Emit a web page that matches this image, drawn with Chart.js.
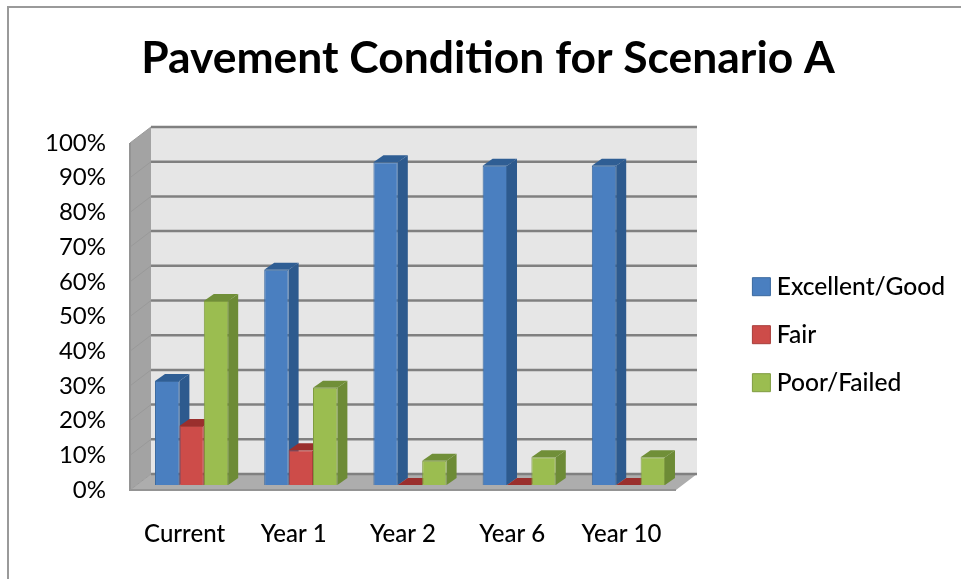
<!DOCTYPE html>
<html>
<head>
<meta charset="utf-8">
<script src="https://cdn.jsdelivr.net/npm/chart.js@4"></script>
<style>
  html, body { margin: 0; padding: 0; background: #fff; }
  #wrap { position: relative; width: 961px; height: 579px; overflow: hidden; }
  #frame { position: absolute; left: 7px; top: 6px; width: 960px; height: 580px; border: solid #9a9a9a; border-width: 2px 0 0 2px; box-sizing: border-box; }
  canvas { position: absolute; left: 0; top: 0; }
</style>
</head>
<body>
<div id="wrap">
  <div id="frame"></div>
  <canvas id="chart" width="961" height="579"></canvas>
</div>
<script>
const categories = ['Current', 'Year 1', 'Year 2', 'Year 6', 'Year 10'];
const excellentGood = [30, 62, 93, 92, 92];
const fair = [17, 10, 0, 0, 0];
const poorFailed = [53, 28, 7, 8, 8];
const yTicks = [0, 10, 20, 30, 40, 50, 60, 70, 80, 90, 100];

const FONT = 'Lato, "Noto Sans", sans-serif';
// Pseudo-3D offsets measured from the front edge of the floor.
const WALL = { dx: 21, dy: -16 };
const BAR_PLANE = { dx: 7, dy: -5 };
const BAR_DEPTH = { dx: 10, dy: -7 };

const shades = {
  blue:  { front: '#4a7fc0', edge: '#3a699f', side: '#2d5a8e', top: '#2f5e94' },
  red:   { front: '#cd4c49', edge: '#a83d3a', side: '#8e2f2c', top: '#9a2f2d' },
  green: { front: '#9bbd50', edge: '#7f9c40', side: '#6d8b36', top: '#708f38' }
};

function poly(ctx, pts, fill) {
  ctx.beginPath();
  pts.forEach((p, i) => (i ? ctx.lineTo(p[0], p[1]) : ctx.moveTo(p[0], p[1])));
  ctx.closePath();
  ctx.fillStyle = fill;
  ctx.fill();
}

const room = {
  id: 'room',
  beforeDatasetsDraw(chart) {
    const { ctx, chartArea: a, scales: { y } } = chart;
    const w = WALL;
    // Back wall, side wall and floor, with gridlines taken from the value scale.
    poly(ctx, [[a.left + w.dx, a.top + w.dy], [a.right + w.dx, a.top + w.dy],
               [a.right + w.dx, a.bottom + w.dy], [a.left + w.dx, a.bottom + w.dy]], '#e6e6e6');
    poly(ctx, [[a.left, a.top], [a.left + w.dx, a.top + w.dy],
               [a.left + w.dx, a.bottom + w.dy], [a.left, a.bottom]], '#a3a3a3');
    poly(ctx, [[a.left, a.bottom], [a.left + w.dx, a.bottom + w.dy],
               [a.right + w.dx, a.bottom + w.dy], [a.right, a.bottom]], '#adadad');
    yTicks.forEach(v => {
      const py = y.getPixelForValue(v);
      ctx.strokeStyle = '#808080';
      ctx.lineWidth = 2.5;
      ctx.beginPath();
      ctx.moveTo(a.left + w.dx, py + w.dy);
      ctx.lineTo(a.right + w.dx, py + w.dy);
      ctx.stroke();
      ctx.strokeStyle = '#999999';
      ctx.lineWidth = 1;
      ctx.beginPath();
      ctx.moveTo(a.left, py);
      ctx.lineTo(a.left + w.dx, py + w.dy);
      ctx.stroke();
    });
    ctx.strokeStyle = '#949494';
    ctx.lineWidth = 2;
    ctx.beginPath();
    ctx.moveTo(a.left, a.top);
    ctx.lineTo(a.left, a.bottom);
    ctx.lineTo(a.right, a.bottom);
    ctx.stroke();

    // Side and top faces go down first, left to right, so that each bar's
    // front face (drawn by the library) covers its left neighbour's side.
    const d = BAR_DEPTH;
    ctx.save();
    ctx.translate(BAR_PLANE.dx, BAR_PLANE.dy);
    chart.data.datasets.forEach((ds, i) => {
      const c = ds.shade;
      chart.getDatasetMeta(i).data.forEach(bar => {
        const { x, y: top, base, width } = bar.getProps(['x', 'y', 'base', 'width'], true);
        const l = x - width / 2, r = x + width / 2;
        poly(ctx, [[r, top], [r + d.dx, top + d.dy], [r + d.dx, base + d.dy], [r, base]], c.side);
        poly(ctx, [[l, top], [l + d.dx, top + d.dy], [r + d.dx, top + d.dy], [r, top]], c.top);
      });
    });
    ctx.restore();
  },
  // Front faces sit in the bars' own depth plane.
  beforeDatasetDraw(chart) {
    chart.ctx.save();
    chart.ctx.translate(BAR_PLANE.dx, BAR_PLANE.dy);
  },
  afterDatasetDraw(chart) {
    chart.ctx.restore();
  },
  // Title and legend are placed independently of the plot rectangle.
  afterLayout(chart) {
    const t = chart.titleBlock;
    t.left = 15; t.right = 961;
    const l = chart.legend;
    l.left = 735; l.right = 961; l.top = 251; l.bottom = 579;
  }
};

new Chart(document.getElementById('chart'), {
  type: 'bar',
  data: {
    labels: categories,
    datasets: [
      { label: 'Excellent/Good', data: excellentGood, shade: shades.blue,
        backgroundColor: shades.blue.front, borderColor: shades.blue.edge },
      { label: 'Fair', data: fair, shade: shades.red,
        backgroundColor: shades.red.front, borderColor: shades.red.edge },
      { label: 'Poor/Failed', data: poorFailed, shade: shades.green,
        backgroundColor: shades.green.front, borderColor: shades.green.edge }
    ]
  },
  plugins: [room],
  options: {
    responsive: false,
    animation: false,
    devicePixelRatio: 1,
    layout: { padding: { left: 0, right: 285, top: 0, bottom: 0 } },
    datasets: {
      bar: { categoryPercentage: 0.67, barPercentage: 1, borderWidth: 1, clip: false }
    },
    plugins: {
      title: {
        display: true,
        text: 'Pavement Condition for Scenario A',
        color: '#000',
        font: { family: FONT, size: 44.4, weight: '700', lineHeight: 1.2 },
        padding: { top: 32, bottom: 57.7 }
      },
      legend: {
        position: 'chartArea',
        align: 'start',
        labels: {
          usePointStyle: true,
          pointStyle: 'rect',
          boxWidth: 6,
          boxHeight: 18,
          padding: 23.4,
          color: '#000',
          font: { family: FONT, size: 24.6, weight: '500' }
        }
      },
      tooltip: { enabled: false }
    },
    scales: {
      x: {
        grid: { display: false },
        border: { display: false },
        ticks: { color: '#000', padding: 22, maxRotation: 0, font: { family: FONT, size: 24, weight: '500' } },
        afterFit(s) { s.height = 89; }
      },
      y: {
        min: 0,
        max: 100,
        grid: { display: false },
        border: { display: false },
        ticks: {
          stepSize: 10,
          color: '#000',
          padding: 16,
          font: { family: FONT, size: 24 },
          callback: v => v + '%'
        },
        afterFit(s) { s.width = 130; }
      }
    }
  }
});
</script>
</body>
</html>
